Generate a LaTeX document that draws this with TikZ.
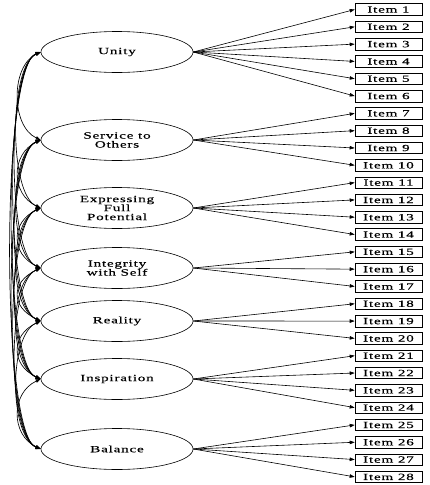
\documentclass[tikz,border=0pt]{standalone}
\usepackage{fontspec}
\setmainfont{Liberation Serif}[FakeStretch=1.6,LetterSpace=8,FakeBold=0.3]
\usetikzlibrary{arrows.meta, positioning, shapes.geometric}

\tikzset{
  latent/.style={draw, ellipse, line width=0.6pt, minimum width=152pt, minimum height=41pt, inner sep=0pt, align=center, font=\fontsize{9.5}{9}\selectfont},
  itembox/.style={draw, rectangle, line width=0.6pt, minimum width=67pt, minimum height=11.5pt, inner sep=0pt, font=\fontsize{9.5}{9}\selectfont},
  load/.style={-{Triangle[length=5pt,width=3.5pt]}, line width=0.6pt},
  cov/.style={{Triangle[length=5pt,width=3.5pt]}-{Triangle[length=5pt,width=3.5pt]}, line width=0.65pt}
}

\begin{document}
\begin{tikzpicture}[x=1pt, y=-1pt]
    \useasboundingbox (0,0) rectangle (429,485);

    % Latent factors
    \node[latent] (l1) at (117,52) {Unity};
    \node[latent] (l2) at (117,140) {Service to\\Others};
    \node[latent] (l3) at (117,208) {Expressing\\Full\\Potential};
    \node[latent] (l4) at (117,268) {Integrity\\with Self};
    \node[latent] (l5) at (117,321) {Reality};
    \node[latent] (l6) at (117,379) {Inspiration};
    \node[latent] (l7) at (117,449) {Balance};

    % Observed items
    \foreach \k in {1,...,28}
        \node[itembox] (i\k) at (388.5, {9.5+17.31*(\k-1)}) {Item \k};

    % Loadings
    \foreach \l/\first/\last in {1/1/6, 2/7/10, 3/11/14, 4/15/17, 5/18/20, 6/21/24, 7/25/28}
        \foreach \k in {\first,...,\last}
            \draw[load] (l\l.east) -- (i\k.west);

    % Covariances between factors
    \foreach \i in {1,...,6} {
        \pgfmathtruncatemacro\nxt{\i+1}
        \foreach \j in {\nxt,...,7} {
            \pgfmathsetmacro\bend{28+2*(\j-\i)}
            \draw[cov] (l\i.west) .. controls +(-\bend,14) and +(-\bend,-14) .. (l\j.west);
        }
    }
\end{tikzpicture}
\end{document}
